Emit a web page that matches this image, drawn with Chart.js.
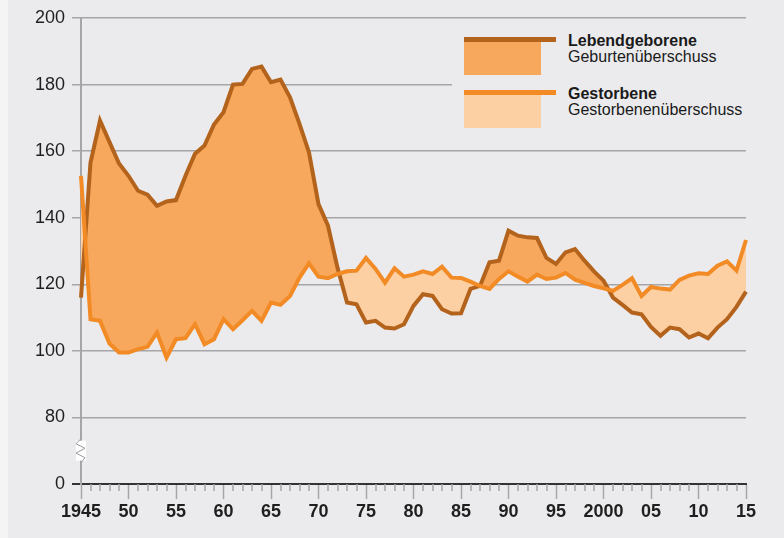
<!DOCTYPE html>
<html lang="de">
<head>
<meta charset="utf-8">
<title>Lebendgeborene und Gestorbene</title>
<script src="https://cdn.jsdelivr.net/npm/chart.js@4.4.1/dist/chart.umd.min.js"></script>
<style>
    body { margin: 0; background: #f4f4f5; font-family: "Liberation Sans", Arial, sans-serif; }
    #panel { position: absolute; left: 8px; top: 0; width: 776px; height: 538px; background: #ebebed; }
    #wrap { position: absolute; left: 0; top: 0; width: 784px; height: 538px; }
    #legend { position: absolute; left: 452px; top: 24px; width: 294px; height: 114px; background: #ebebed; }
    .bar, .box, .txt { position: absolute; }
    .txt { font-size: 16px; line-height: 16px; color: #1a1a1a; white-space: nowrap; }
    .txt b { font-weight: bold; }
</style>
</head>
<body>
<div id="panel"></div>
<div id="wrap"><canvas id="chart" width="784" height="538"></canvas></div>
<div id="legend"></div>

<script>
// Jahre 1945-2015
const years = [
    1945, 1946, 1947, 1948, 1949, 1950, 1951, 1952, 1953, 1954,
    1955, 1956, 1957, 1958, 1959, 1960, 1961, 1962, 1963, 1964,
    1965, 1966, 1967, 1968, 1969, 1970, 1971, 1972, 1973, 1974,
    1975, 1976, 1977, 1978, 1979, 1980, 1981, 1982, 1983, 1984,
    1985, 1986, 1987, 1988, 1989, 1990, 1991, 1992, 1993, 1994,
    1995, 1996, 1997, 1998, 1999, 2000, 2001, 2002, 2003, 2004,
    2005, 2006, 2007, 2008, 2009, 2010, 2011, 2012, 2013, 2014,
    2015
];

const births = [
    116.0, 156.6, 169.2, 162.7, 156.3, 152.6, 148.1, 146.9, 143.6, 144.9,
    145.3, 152.6, 159.2, 161.7, 168.0, 171.7, 180.0, 180.2, 184.7, 185.4,
    180.7, 181.5, 176.2, 168.2, 159.6, 144.1, 137.6, 125.0, 114.5, 114.0,
    108.5, 109.0, 107.0, 106.7, 108.0, 113.5, 117.0, 116.5, 112.5, 111.2,
    111.3, 118.6, 119.5, 126.6, 127.1, 136.1, 134.6, 134.1, 133.9, 127.9,
    126.1, 129.6, 130.6, 127.1, 123.9, 121.1, 116.0, 113.8, 111.5, 111.0,
    107.2, 104.5, 107.0, 106.5, 104.0, 105.2, 103.8, 107.0, 109.5, 113.2,
    117.8
];

const deaths = [
    152.6, 109.5, 109.0, 102.2, 99.5, 99.5, 100.5, 101.2, 105.5, 98.0,
    103.5, 103.8, 108.0, 102.0, 103.5, 109.5, 106.5, 109.2, 112.0, 109.0,
    114.5, 113.8, 116.5, 122.0, 126.3, 122.3, 121.8, 123.1, 123.9, 124.1,
    127.9, 124.6, 120.5, 124.8, 122.3, 122.9, 123.9, 123.1, 125.3, 122.0,
    121.9, 120.8, 119.5, 118.6, 121.6, 123.9, 122.3, 120.8, 122.9, 121.6,
    122.0, 123.4, 121.4, 120.4, 119.5, 118.8, 118.0, 119.8, 121.8, 116.5,
    119.2, 118.7, 118.4, 121.3, 122.6, 123.3, 123.1, 125.6, 126.9, 124.1,
    133.3
];

// Achse ist unterbrochen: der Wert 60 der Skala steht fuer die 0
const yTicks = [0, 80, 100, 120, 140, 160, 180, 200];
const axisBreakValue = 60;

const seriesNames = ['Lebendgeborene', 'Gestorbene'];
const fillNames = ['Geburtenüberschuss', 'Gestorbenenüberschuss'];

const colors = {
    births: '#b3631b',
    deaths: '#f28b26',
    surplusBirths: '#f7a85c',
    surplusDeaths: '#fdd0a4',
    grid: '#a6a6a8',
    axis: '#333333',
    text: '#1f1f1f'
};

function xLabel(v) {
    if (v % 5 !== 0) return '';
    if (v === 1945 || v === 2000) return String(v);
    return String(v % 100).padStart(2, '0');
}

function yLabel(v) {
    if (v === axisBreakValue) return String(yTicks[0]);
    return yTicks.includes(v) ? String(v) : '';
}

// kleine Jahresstriche und Achsenbruch
const extrasPlugin = {
    id: 'extras',
    afterDraw(chart) {
        const ctx = chart.ctx;
        const xs = chart.scales.x;
        const ys = chart.scales.y;
        const base = chart.chartArea.bottom;

        ctx.save();
        ctx.strokeStyle = colors.grid;
        ctx.lineWidth = 1.5;
        years.forEach(yr => {
            if (yr % 5 === 0) return;
            const px = Math.round(xs.getPixelForValue(yr));
            ctx.beginPath();
            ctx.moveTo(px, base);
            ctx.lineTo(px, base + 7);
            ctx.stroke();
        });

        const ax = xs.getPixelForValue(years[0]);
        const top = ys.getPixelForValue(73);
        const bottom = ys.getPixelForValue(67);
        const h = bottom - top;
        ctx.fillStyle = '#ffffff';
        ctx.fillRect(ax - 5, top, 10, h);
        ctx.strokeStyle = '#9a9a9c';
        ctx.lineWidth = 1;
        ctx.beginPath();
        ctx.moveTo(ax, top - 2);
        ctx.lineTo(ax - 5, top + h * 0.15);
        ctx.lineTo(ax + 4, top + h * 0.38);
        ctx.lineTo(ax - 5, top + h * 0.62);
        ctx.lineTo(ax + 4, top + h * 0.85);
        ctx.lineTo(ax, bottom + 2);
        ctx.stroke();
        ctx.restore();
    }
};

function drawChart() {
    const ctx = document.getElementById('chart').getContext('2d');

    const birthPoints = years.map((yr, i) => ({ x: yr, y: births[i] }));
    const deathPoints = years.map((yr, i) => ({ x: yr, y: deaths[i] }));

    new Chart(ctx, {
        type: 'line',
        data: {
            datasets: [
                {
                    label: seriesNames[0],
                    data: birthPoints,
                    borderColor: colors.births,
                    borderWidth: 4,
                    pointRadius: 0,
                    tension: 0,
                    order: 2,
                    clip: false,
                    fill: {
                        target: 1,
                        above: colors.surplusBirths,
                        below: colors.surplusDeaths
                    }
                },
                {
                    label: seriesNames[1],
                    data: deathPoints,
                    borderColor: colors.deaths,
                    borderWidth: 4,
                    pointRadius: 0,
                    tension: 0,
                    order: 1,
                    clip: false,
                    fill: false
                }
            ]
        },
        options: {
            responsive: false,
            animation: false,
            layout: { padding: { left: 0, top: 18, right: 38, bottom: 0 } },
            plugins: {
                legend: { display: false },
                tooltip: { enabled: false },
                filler: { drawTime: 'beforeDatasetsDraw' }
            },
            scales: {
                x: {
                    type: 'linear',
                    min: years[0],
                    max: years[years.length - 1],
                    afterFit: scale => { scale.height = 54; },
                    border: { display: true, color: colors.axis, width: 2 },
                    grid: {
                        drawOnChartArea: false,
                        drawTicks: true,
                        tickLength: 15,
                        tickWidth: 1.5,
                        tickColor: c => (c.tick && c.tick.value % 5 === 0) ? colors.grid : 'rgba(0,0,0,0)'
                    },
                    ticks: {
                        stepSize: 1,
                        autoSkip: false,
                        maxRotation: 0,
                        padding: 2,
                        color: colors.text,
                        font: { family: '"Liberation Sans", Arial, sans-serif', size: 18, weight: 'bold' },
                        callback: v => xLabel(v)
                    }
                },
                y: {
                    min: axisBreakValue,
                    max: yTicks[yTicks.length - 1],
                    afterFit: scale => { scale.width = 81; },
                    border: { display: true, color: colors.grid, width: 2 },
                    grid: {
                        color: c => c.tick.value === axisBreakValue ? colors.axis : colors.grid,
                        lineWidth: c => c.tick.value === axisBreakValue ? 2 : 1.5,
                        tickLength: 9,
                        tickColor: c => c.tick.value === axisBreakValue ? colors.axis : colors.grid
                    },
                    ticks: {
                        stepSize: 20,
                        padding: 7,
                        color: colors.text,
                        font: { family: '"Liberation Sans", Arial, sans-serif', size: 18 },
                        callback: v => yLabel(v)
                    }
                }
            }
        },
        plugins: [extrasPlugin]
    });
}

function buildLegend() {
    const legend = document.getElementById('legend');
    const ox = 452, oy = 24;
    const items = [
        { line: colors.births, box: colors.surplusBirths, top: 36.5, name: seriesNames[0], sub: fillNames[0] },
        { line: colors.deaths, box: colors.surplusDeaths, top: 89.5, name: seriesNames[1], sub: fillNames[1] }
    ];
    items.forEach(item => {
        legend.innerHTML += `
            <div class="box" style="left:${464 - ox}px;top:${item.top + 5 - oy}px;width:77px;height:33px;background:${item.box}"></div>
            <div class="bar" style="left:${464 - ox}px;top:${item.top - oy}px;width:92px;height:5.5px;background:${item.line}"></div>
            <div class="txt" style="left:${568 - ox}px;top:${item.top - 4 - oy}px"><b>${item.name}</b></div>
            <div class="txt" style="left:${568 - ox}px;top:${item.top + 12.5 - oy}px">${item.sub}</div>
        `;
    });
}

window.addEventListener('DOMContentLoaded', () => {
    drawChart();
    buildLegend();
});
</script>
</body>
</html>
